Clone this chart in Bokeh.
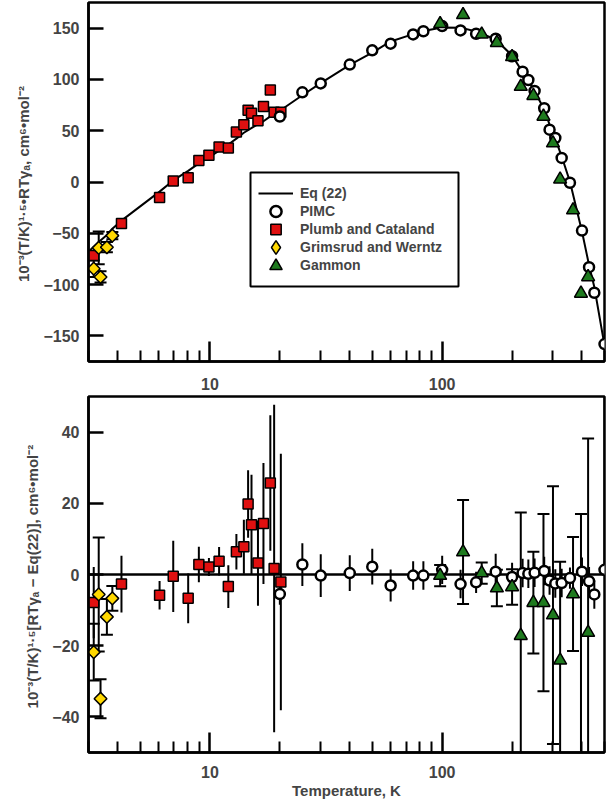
import numpy as np
from bokeh.plotting import figure
from bokeh.models import (Range1d, FixedTicker, Span, Legend, LegendItem, PrintfTickFormatter,
                          BoxAnnotation)
from bokeh.layouts import column
from bokeh.embed import file_html
from bokeh.resources import INLINE

# ---------------- data ----------------
# Eq (22) curve
curve_T = [3.0, 3.16, 3.32, 3.6, 3.8, 4.16, 6.07, 6.95, 8.06, 8.96, 9.9, 10.95, 12.0, 13.0, 14.0,
           16.1, 17.0, 18.2, 20.0, 25, 30, 40, 50, 60, 75, 83, 100, 120, 140, 170, 200, 222, 235,
           250, 275, 290, 307, 327, 355, 400, 429, 452, 500]
curve_v = [-68, -63, -58.6, -51.7, -45.6, -37.7, -9.4, 1.5, 10.9, 18.2, 23.9, 30.5, 36.6, 42.3, 48.0,
           56.5, 59.2, 64.0, 69.5, 84.6, 96.4, 114.1, 126.2, 137.0, 144.2, 147.3, 150.7, 150.5, 146.7,
           138.9, 123.3, 107.1, 99.2, 88.3, 71.0, 56.0, 42.0, 25.0, 0.3, -48.2, -81.1, -102.4, -159.3]

# PIMC
pimc_T = [20, 25, 30, 40, 50, 60, 75, 83, 100, 120, 140, 170, 200, 222, 235, 250, 275, 290, 307,
          327, 355, 400, 429, 452, 500]
pimc_v = [63.9, 87.4, 96.1, 114.5, 128.4, 134.9, 143.9, 147.0, 152.0, 147.8, 144.5, 139.7, 122.6,
          107.5, 99.4, 88.8, 71.9, 51.0, 42.9, 23.5, -0.7, -47.4, -83.0, -108.0, -158.0]
pimc_dev = [-5.5, 2.8, -0.3, 0.4, 2.2, -3.1, -0.3, -0.3, 1.3, -2.7, -2.2, 0.8, -0.7, 0.4, 0.2, 0.5,
            1.0, -1.7, -2.5, -2.4, -1.0, 0.8, -1.9, -5.6, 1.3]
pimc_err_up = [3, 6, 6, 5, 5, 4.5, 4, 4, 4, 4, 3, 5, 4, 4, 4, 4, 4, 4, 4, 4, 3, 4, 4, 4, 60]
pimc_err_dn = [3, 6, 6, 5, 5, 4.5, 4, 4, 4, 4, 3, 5, 4, 4, 4, 4, 4, 4, 4, 4, 3, 4, 4, 4, 1]

# Plumb and Cataland
plumb_T = [3.16, 4.16, 6.07, 6.95, 8.06, 8.96, 9.9, 10.95, 12.0, 13.0, 14.0, 14.6, 15.1, 16.1,
           17.0, 18.2, 18.9, 20.2]
plumb_v = [-71.6, -40.4, -15.2, 1.0, 4.2, 21.0, 26.0, 34.2, 33.2, 48.7, 55.8, 70.0, 67.0, 59.7,
           73.5, 89.7, 68.0, 68.0]
plumb_dev = [-7.9, -2.7, -5.8, -0.5, -6.7, 2.8, 2.1, 3.7, -3.4, 6.4, 7.8, 19.8, 14.0, 3.2, 14.3,
             25.7, 1.7, -2.1]
plumb_err = [10, 8, 4, 10, 7, 5, 2.5, 4, 6, 5, 7.6, 9.5, 14, 12, 17, 19, 46, 36]

# Grimsrud and Werntz
grim_T = [3.16, 3.32, 3.38, 3.6, 3.8]
grim_v = [-84.5, -64.2, -92.6, -63.6, -52.3]
grim_dev = [-21.8, -5.6, -34.9, -11.9, -6.7]
grim_err = [8, 16, 5.5, 5, 3.5]

# Gammon
gam_T = [98, 123, 148, 172, 200, 218, 247, 273, 300, 322, 366, 396, 425]
gam_v = [154.2, 163.0, 144.0, 135.8, 122.0, 93.0, 84.2, 63.9, 38.0, 2.6, -27.4, -108.7, -92.6]
gam_dev = [-0.3, 6.3, 0.4, -3.8, -3.5, -17.2, -7.9, -7.9, -11.4, -24.1, -5.5, -65.0, -16.3]
gam_err = [3, 14.6, 3, 5.1, 5, 34.6, 14.3, 24.9, 36.2, 27.7, 16.0, 82.0, 54.5]

x_major = [10, 100]
x_minor = [3, 4, 5, 6, 7, 8, 9, 20, 30, 40, 50, 60, 70, 80, 90, 200, 300, 400, 500]
top_yticks = [-150, -100, -50, 0, 50, 100, 150]
bot_yticks = [-40, -20, 0, 20, 40]

legend_labels = ["Eq (22)", "PIMC", "Plumb and Cataland", "Grimsrud and Werntz", "Gammon"]
top_ylabel = "10\u207b\u00b3(T/K)\u00b9\u00b7\u2075\u2022RT\u03b3\u2090,  cm\u2076\u2022mol\u207b\u00b2"
bot_ylabel = "10\u207b\u00b3(T/K)\u00b9\u00b7\u2075[RT\u03b3\u2090 \u2212 Eq(22)],  cm\u2076\u2022mol\u207b\u00b2"
xlabel = "Temperature, K"

# ---------------- styling ----------------
FONT = "Liberation Sans"
RED = "#e01010"
YEL = "#ffd800"
GRN = "#1e7a1e"

FRAME_L, FRAME_B = 88, 361   # top panel frame left / bottom on the page


def style(p, yticks):
    p.xaxis.ticker = FixedTicker(ticks=x_major, minor_ticks=x_minor)
    p.xaxis.formatter = PrintfTickFormatter(format="%d")
    p.yaxis.ticker = FixedTicker(ticks=yticks, minor_ticks=[])
    p.xgrid.visible = False
    p.ygrid.visible = False
    p.outline_line_color = "black"
    p.outline_line_width = 2.5
    for ax in p.axis:
        ax.axis_line_width = 2.5
        ax.major_tick_out = 0
        ax.minor_tick_out = 0
        ax.major_tick_line_width = 2.5
        ax.minor_tick_line_width = 2
        ax.major_label_text_font = FONT
        ax.major_label_text_font_style = "bold"
        ax.major_label_text_font_size = "16px"
        ax.axis_label_text_font = FONT
        ax.axis_label_text_font_style = "bold"
        ax.axis_label_text_font_size = "15px"
    p.xaxis.major_tick_in = 20
    p.xaxis.minor_tick_in = 11
    p.yaxis.major_tick_in = 15
    p.yaxis.major_label_standoff = 9
    p.yaxis.axis_label_standoff = 8


def errbars(p, T, v, up, dn, caps):
    T = np.asarray(T, float)
    v = np.asarray(v, float)
    hi = v + np.asarray(up, float)
    lo = v - np.asarray(dn, float)
    p.segment(T, lo, T, hi, line_color="black", line_width=2)
    if caps:
        p.scatter(T, hi, marker="dash", size=12, line_color="black", line_width=2)
        p.scatter(T, lo, marker="dash", size=12, line_color="black", line_width=2)


# ---------------- top panel ----------------
p1 = figure(width=612, height=395, x_axis_type="log",
            x_range=Range1d(3, 500), y_range=Range1d(-175, 175),
            output_backend="svg", toolbar_location=None,
            min_border_left=88, min_border_right=8, min_border_top=2, min_border_bottom=34)
style(p1, top_yticks)
p1.xaxis.major_label_standoff = 16
p1.yaxis.axis_label = top_ylabel

r_line = p1.line(curve_T, curve_v, line_color="black", line_width=2)
errbars(p1, grim_T, grim_v, grim_err, grim_err, True)
r_sq = p1.scatter(plumb_T, plumb_v, marker="square", size=10, fill_color=RED,
                  line_color="black", line_width=1.5)
p1.scatter(grim_T, grim_v, marker="square", angle=np.pi / 4, size=9, fill_color=YEL,
           line_color="black", line_width=1.5)
r_ci = p1.scatter(pimc_T, pimc_v, marker="circle", size=10, fill_color="white",
                  line_color="black", line_width=2.5)
r_tr = p1.scatter(gam_T, gam_v, marker="triangle", size=13, fill_color=GRN,
                  line_color="black", line_width=1.5)
# legend-only glyph for the diamond key (the legend ignores marker angle); no visible mark
r_di = p1.scatter(x=[np.nan], y=[np.nan], marker="diamond", size=14, fill_color=YEL,
                  line_color="black", line_width=1.5)

# legend frame, screen pixels measured from the frame's bottom-left corner
box_l, box_r, box_t, box_b = 250, 458, 172, 286
p1.add_layout(BoxAnnotation(left=box_l - FRAME_L, right=box_r - FRAME_L,
                            top=FRAME_B - box_t, bottom=FRAME_B - box_b,
                            left_units="screen", right_units="screen",
                            top_units="screen", bottom_units="screen",
                            fill_color="white", fill_alpha=1,
                            line_color="black", line_alpha=1, line_width=2))

legend_rends = [r_line, r_ci, r_sq, r_di, r_tr]
legend_glyph_h = [28, 28, 26, 34, 31]
row_center = 193
for lab, rend, gh in zip(legend_labels, legend_rends, legend_glyph_h):
    lg = Legend(items=[LegendItem(label=lab, renderers=[rend])],
                location=(258 - FRAME_L, FRAME_B - row_center - gh / 2),
                glyph_width=35, glyph_height=gh, label_height=gh,
                padding=0, margin=0, spacing=0, label_standoff=7,
                label_text_font=FONT, label_text_font_style="bold", label_text_font_size="14px",
                border_line_color=None, background_fill_alpha=0)
    p1.add_layout(lg)
    row_center += 18

# ---------------- bottom panel ----------------
p2 = figure(width=612, height=406, x_axis_type="log",
            x_range=Range1d(3, 500), y_range=Range1d(-50, 50),
            output_backend="svg", toolbar_location=None,
            min_border_left=88, min_border_right=8, min_border_top=1, min_border_bottom=49)
style(p2, bot_yticks)
p2.xaxis.major_label_standoff = 13
p2.yaxis.axis_label = bot_ylabel
p2.xaxis.axis_label = xlabel
p2.xaxis.axis_label_standoff = 1

zero = Span(location=0, dimension="width", line_color="black", line_width=2.5, level="underlay")
p2.add_layout(zero)

errbars(p2, plumb_T, plumb_dev, plumb_err, plumb_err, False)
errbars(p2, pimc_T, pimc_dev, pimc_err_up, pimc_err_dn, False)
errbars(p2, grim_T, grim_dev, grim_err, grim_err, True)
errbars(p2, gam_T, gam_dev, gam_err, gam_err, True)

p2.scatter(plumb_T, plumb_dev, marker="square", size=10, fill_color=RED,
           line_color="black", line_width=1.5)
p2.scatter(grim_T, grim_dev, marker="square", angle=np.pi / 4, size=9, fill_color=YEL,
           line_color="black", line_width=1.5)
p2.scatter(pimc_T, pimc_dev, marker="circle", size=10, fill_color="white",
           line_color="black", line_width=2.5)
p2.scatter(gam_T, gam_dev, marker="triangle", size=13, fill_color=GRN,
           line_color="black", line_width=1.5)

layout = column(p1, p2, spacing=0)

open("out.html", "w").write(file_html(layout, INLINE))
